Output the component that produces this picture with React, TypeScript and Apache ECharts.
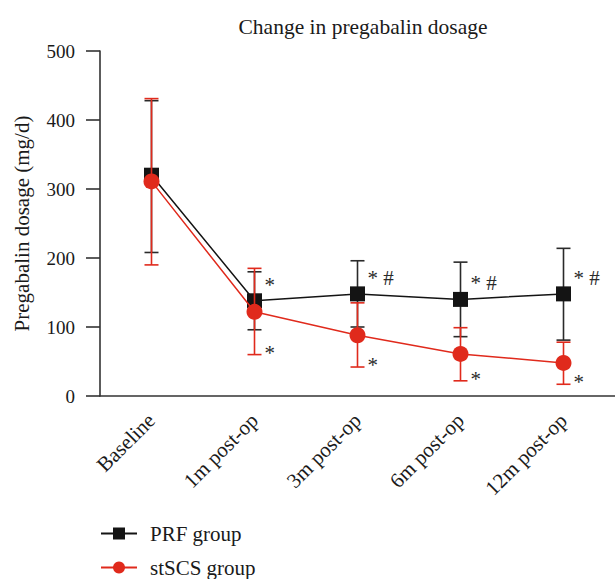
import React, { useEffect, useRef } from "react";
import * as echarts from "echarts";

const categories = ["Baseline", "1m post-op", "3m post-op", "6m post-op", "12m post-op"];
const yTicks = [0, 100, 200, 300, 400, 500];
const prfMean = [320, 138, 148, 140, 148];
const prfUpper = [428, 180, 196, 194, 214];
const prfLower = [208, 96, 100, 86, 81];
const scsMean = [311, 122, 88, 61, 48];
const scsUpper = [431, 185, 135, 99, 78];
const scsLower = [190, 60, 42, 22, 17];
const prfMarks = ["", "*", "* #", "* #", "* #"];
const scsMarks = ["", "*", "*", "*", "*"];

const FONT = "'Liberation Serif', 'Times New Roman', serif";
const BLACK = "#141414";
const RED = "#e02a1c";
const TEXT = "#1a1a1a";

function errorBarSeries(name: string, lower: number[], upper: number[], color: string, z: number) {
  return {
    type: "custom",
    name: name + "-err",
    z,
    silent: true,
    data: categories.map((_, i) => [i, lower[i], upper[i]]),
    renderItem: (params: any, api: any) => {
      const lo = api.coord([api.value(0), api.value(1)]);
      const hi = api.coord([api.value(0), api.value(2)]);
      const hw = 7;
      const style = { stroke: color, lineWidth: 1.6 };
      return {
        type: "group",
        children: [
          { type: "line", shape: { x1: lo[0], y1: lo[1], x2: hi[0], y2: hi[1] }, style },
          { type: "line", shape: { x1: lo[0] - hw, y1: lo[1], x2: lo[0] + hw, y2: lo[1] }, style },
          { type: "line", shape: { x1: hi[0] - hw, y1: hi[1], x2: hi[0] + hw, y2: hi[1] }, style },
        ],
      };
    },
  };
}

function markSeries(name: string, anchor: number[], marks: string[], dx: number, dy: number, z: number) {
  return {
    type: "custom",
    name: name + "-mark",
    z,
    silent: true,
    data: categories.map((_, i) => [i, anchor[i]]),
    renderItem: (params: any, api: any) => {
      const p = api.coord([api.value(0), api.value(1)]);
      const t = marks[params.dataIndex];
      if (!t) return null;
      return {
        type: "text",
        style: {
          text: t,
          x: p[0] + dx,
          y: p[1] + dy,
          fill: "#2a2a2a",
          fontSize: 21,
          fontFamily: FONT,
          align: "left",
          verticalAlign: "middle",
        },
      };
    },
  };
}

export default function App() {
  const ref = useRef<HTMLDivElement>(null);
  useEffect(() => {
    if (!ref.current) return;
    const chart = echarts.init(ref.current, null, { renderer: "svg" });
    const legendCommon = {
      orient: "horizontal",
      left: 100,
      itemWidth: 36,
      itemHeight: 15,
      padding: 0,
      textStyle: { fontFamily: FONT, fontSize: 21, color: TEXT, padding: [0, 0, 0, 8] },
    };
    chart.setOption({
      animation: false,
      backgroundColor: "#ffffff",
      textStyle: { fontFamily: FONT },
      title: {
        text: "Change in pregabalin dosage",
        left: 358,
        textAlign: "center",
        top: 11,
        textStyle: { fontFamily: FONT, fontSize: 21.5, fontWeight: "normal", color: TEXT },
      },
      legend: [
        { ...legendCommon, top: 523, data: ["PRF group"] },
        { ...legendCommon, top: 557, data: ["stSCS group"] },
      ],
      grid: { left: 100, right: 0, top: 51, bottom: 183, containLabel: false },
      xAxis: {
        type: "category",
        data: categories,
        boundaryGap: true,
        axisLine: { lineStyle: { color: "#333", width: 1.6 } },
        axisTick: { alignWithLabel: true, length: 14, lineStyle: { color: "#333", width: 1.6 } },
        axisLabel: { rotate: 45, fontFamily: FONT, fontSize: 21, color: TEXT, margin: 21, interval: 0 },
      },
      yAxis: {
        type: "value",
        min: yTicks[0],
        max: yTicks[yTicks.length - 1],
        interval: 100,
        name: "Pregabalin dosage (mg/d)",
        nameLocation: "middle",
        nameGap: 68,
        nameTextStyle: { fontFamily: FONT, fontSize: 21, color: TEXT },
        axisLine: { show: true, lineStyle: { color: "#333", width: 1.6 } },
        axisTick: { show: true, inside: false, length: 14, lineStyle: { color: "#333", width: 1.6 } },
        axisLabel: { fontFamily: FONT, fontSize: 19, color: TEXT, margin: 25 },
        splitLine: { show: false },
      },
      series: [
        errorBarSeries("PRF group", prfLower, prfUpper, "#2a2a2a", 1),
        {
          type: "line",
          name: "PRF group",
          z: 2,
          data: prfMean,
          symbol: "rect",
          symbolSize: 15,
          itemStyle: { color: BLACK },
          lineStyle: { color: BLACK, width: 1.5 },
        },
        errorBarSeries("stSCS group", scsLower, scsUpper, RED, 3),
        {
          type: "line",
          name: "stSCS group",
          z: 4,
          data: scsMean,
          symbol: "circle",
          symbolSize: 16,
          itemStyle: { color: RED },
          lineStyle: { color: RED, width: 1.5 },
        },
        markSeries("PRF group", prfMean, prfMarks, 10, -16, 5),
        markSeries("stSCS group", scsLower, scsMarks, 10, -2, 5),
      ],
    });
    return () => chart.dispose();
  }, []);
  return (
    <div
      ref={ref}
      style={{ position: "fixed", left: 0, top: 0, width: 615, height: 579, background: "#fff" }}
    />
  );
}
